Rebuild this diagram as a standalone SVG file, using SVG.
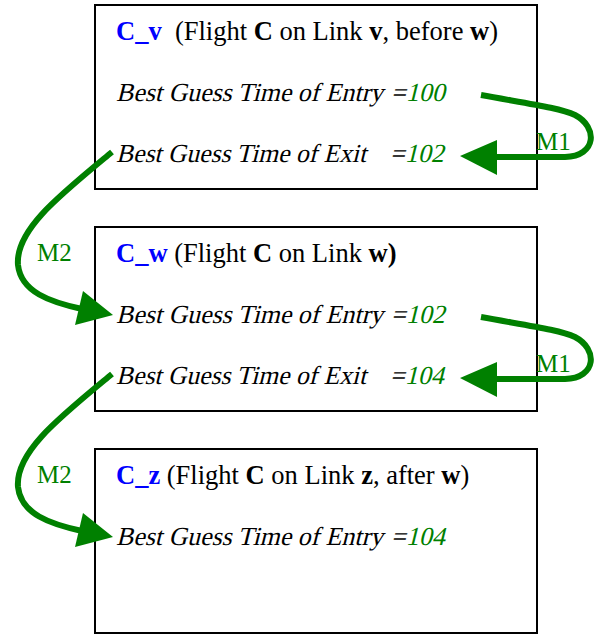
<svg xmlns="http://www.w3.org/2000/svg" width="600" height="635" viewBox="0 0 600 635">
<style>
.box{fill:#fff;stroke:#000;stroke-width:2}
text{font-family:"Liberation Serif","Times New Roman",serif;font-size:26.5px;fill:#000}
.id{fill:#0000ff;font-weight:bold}
.b{font-weight:bold}
.it{font-size:26px}
.g{fill:#008000}
.lab{fill:#008000;font-size:25px}
.arr{fill:none;stroke:#008000;stroke-width:6}
.head{fill:#008000}
</style>
<defs>
<g id="m1">
<path class="arr" d="M481,95 C530,104 560,108 575,115 C598,127 597,156 565,157 L494,157"/>
<polygon class="head" points="460,156 497,140 497,175"/>
</g>
<g id="m2">
<path class="arr" d="M112,152 C60,195 15,230 18,265 C21,292 50,302 82,309"/>
<polygon class="head" points="113,315 83,291 75,325"/>
</g>
</defs>
<g id="node-cv">
<rect class="box" x="95" y="5" width="442" height="184"/>
<text x="116" y="40" xml:space="preserve"><tspan class="id">C_v</tspan>  (Flight <tspan class="b">C</tspan> on Link <tspan class="b">v</tspan>, before <tspan class="b">w</tspan>)</text>
<text class="it" transform="translate(116,101) skewX(-14)"><tspan textLength="267" lengthAdjust="spacingAndGlyphs">Best Guess Time of Entry</tspan><tspan x="275">=</tspan><tspan class="g">100</tspan></text>
<text class="it" transform="translate(116,162) skewX(-14)"><tspan textLength="250" lengthAdjust="spacingAndGlyphs">Best Guess Time of Exit</tspan><tspan x="274">=</tspan><tspan class="g">102</tspan></text>
</g>
<g id="node-cw">
<rect class="box" x="95" y="227" width="442" height="184"/>
<text x="116" y="262"><tspan class="id">C_w</tspan> (Flight <tspan class="b">C</tspan> on Link <tspan class="b">w)</tspan></text>
<text class="it" transform="translate(116,323) skewX(-14)"><tspan textLength="267" lengthAdjust="spacingAndGlyphs">Best Guess Time of Entry</tspan><tspan x="275">=</tspan><tspan class="g">102</tspan></text>
<text class="it" transform="translate(116,384) skewX(-14)"><tspan textLength="250" lengthAdjust="spacingAndGlyphs">Best Guess Time of Exit</tspan><tspan x="274">=</tspan><tspan class="g">104</tspan></text>
</g>
<g id="node-cz">
<rect class="box" x="95" y="449" width="442" height="184"/>
<text x="116" y="484"><tspan class="id">C_z</tspan> (Flight <tspan class="b">C</tspan> on Link <tspan class="b">z</tspan>, after <tspan class="b">w</tspan>)</text>
<text class="it" transform="translate(116,545) skewX(-14)"><tspan textLength="267" lengthAdjust="spacingAndGlyphs">Best Guess Time of Entry</tspan><tspan x="275">=</tspan><tspan class="g">104</tspan></text>
</g>
<g id="connectors">
<use href="#m1"/>
<use href="#m2"/>
<use href="#m1" transform="translate(0,222)"/>
<use href="#m2" transform="translate(0,222)"/>
<text class="lab" x="536" y="150">M1</text>
<text class="lab" x="37" y="261">M2</text>
<text class="lab" x="536" y="372">M1</text>
<text class="lab" x="37" y="483">M2</text>
</g>
</svg>
